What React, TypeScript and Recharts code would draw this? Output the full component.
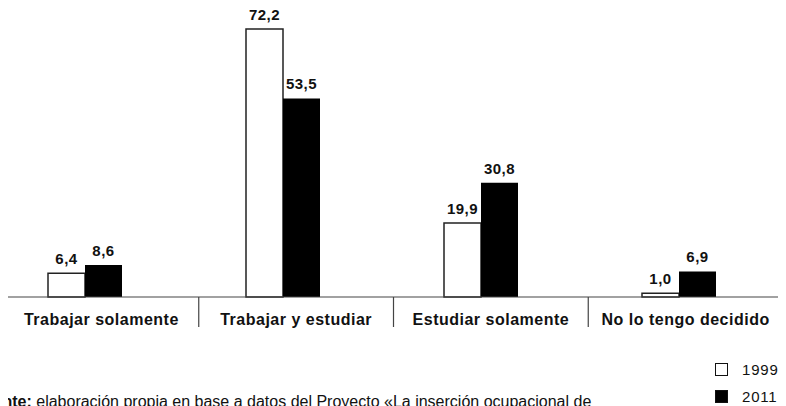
import { Bar, BarChart, LabelList, Legend, XAxis, YAxis } from 'recharts';

const categories = ['Trabajar solamente', 'Trabajar y estudiar', 'Estudiar solamente', 'No lo tengo decidido'];
const values1999 = [6.4, 72.2, 19.9, 1.0];
const values2011 = [8.6, 53.5, 30.8, 6.9];
const seriesNames = ['1999', '2011'];

const data = categories.map((name, i) => ({
  name,
  y1999: values1999[i],
  y2011: values2011[i],
}));

const FONT = '"Liberation Sans", Arial, sans-serif';
const LINE = '#444';

const fmt = (v: unknown) => Number(v).toFixed(1).replace('.', ',');

function CategoryTick(props: any) {
  const { x, y, payload, index } = props;
  const half = payload?.offset || 97.4;
  const isLast = index === categories.length - 1;
  return (
    <g>
      <line x1={x - half} y1={y} x2={x - half} y2={y + 30} stroke={LINE} strokeWidth={1.2} />
      {isLast && <line x1={x + half} y1={y} x2={x + half} y2={y + 30} stroke={LINE} strokeWidth={1.2} />}
      <text
        x={x}
        y={y + 28}
        textAnchor="middle"
        fontFamily={FONT}
        fontWeight={700}
        fontSize={16}
        letterSpacing={0.5}
        fill="#111"
      >
        {payload.value}
      </text>
    </g>
  );
}

function LegendBox(props: any) {
  const items = props.payload ?? [];
  return (
    <div style={{ fontFamily: FONT, width: 70 }}>
      {items.map((item: any, i: number) => (
        <div key={item.value} style={{ display: 'flex', alignItems: 'center', height: 27 }}>
          <span
            style={{
              display: 'inline-block',
              flex: 'none',
              width: 11,
              height: 11,
              border: '1.5px solid #111',
              background: i === 0 ? '#fff' : '#000',
              marginRight: 14,
            }}
          />
          <span style={{ fontSize: 15, letterSpacing: 0.8, color: '#111', whiteSpace: 'nowrap' }}>{seriesNames[i]}</span>
        </div>
      ))}
    </div>
  );
}

export default function App() {
  return (
    <div style={{ position: 'relative', width: 786, height: 406, margin: '-8px 0 0 -8px', overflow: 'hidden', background: '#fff' }}>
      <BarChart
        width={786}
        height={406}
        data={data}
        margin={{ top: 0, right: 3, left: 4, bottom: 79 }}
        barGap={0}
      >
        <XAxis
          xAxisId="labels"
          dataKey="name"
          height={30}
          axisLine={{ stroke: LINE, strokeWidth: 1.2 }}
          tickLine={false}
          tickSize={0}
          tickMargin={0}
          interval={0}
          tick={<CategoryTick />}
        />
        <XAxis xAxisId="bars" dataKey="name" hide height={0} padding={{ left: -18, right: 5 }} />
        <YAxis hide domain={[0, 80]} />
        <Legend
          layout="vertical"
          align="center"
          verticalAlign="middle"
          content={<LegendBox />}
          wrapperStyle={{ left: 715, top: 356, width: 70 }}
        />
        <Bar xAxisId="bars" dataKey="y1999" name="1999" fill="#fff" stroke="#222" strokeWidth={1.5} barSize={37} isAnimationActive={false}>
          <LabelList dataKey="y1999" position="top" offset={9} formatter={fmt} fontFamily={FONT} fontWeight={700} fontSize={15} letterSpacing={0.5} fill="#111" />
        </Bar>
        <Bar xAxisId="bars" dataKey="y2011" name="2011" fill="#000" barSize={37} isAnimationActive={false}>
          <LabelList dataKey="y2011" position="top" offset={9} formatter={fmt} fontFamily={FONT} fontWeight={700} fontSize={15} letterSpacing={0.5} fill="#111" />
        </Bar>
      </BarChart>
      <div
        style={{
          position: 'absolute',
          left: -26,
          top: 393,
          fontFamily: FONT,
          fontSize: 16,
          lineHeight: '17px',
          whiteSpace: 'nowrap',
          color: '#111',
        }}
      >
        <b>Fuente:</b> elaboración propia en base a datos del Proyecto «La inserción ocupacional de
      </div>
    </div>
  );
}
